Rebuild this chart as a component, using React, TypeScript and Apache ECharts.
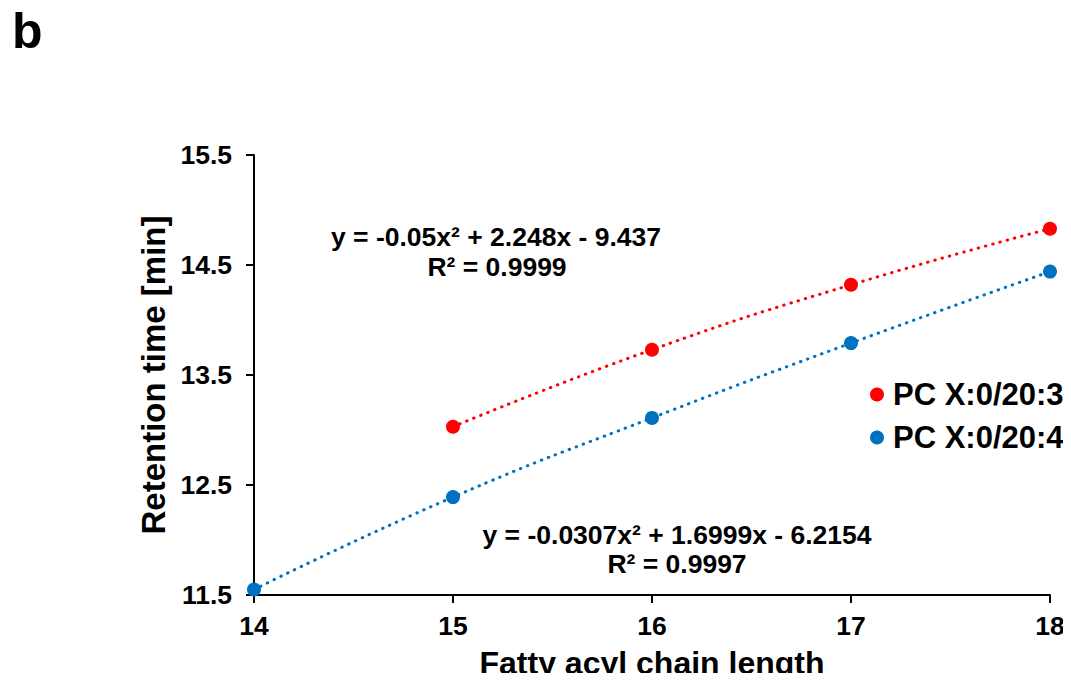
import React, { useEffect, useRef } from "react";
import * as echarts from "echarts";

const xTicks = [14, 15, 16, 17, 18];
const yTicks = [11.5, 12.5, 13.5, 14.5, 15.5];
const redName = "PC X:0/20:3";
const blueName = "PC X:0/20:4";
const redX = [15, 16, 17, 18];
const redY = [13.03, 13.73, 14.32, 14.83];
const blueX = [14, 15, 16, 17, 18];
const blueY = [11.55, 12.39, 13.11, 13.79, 14.44];
const redEq = ["y = -0.05x² + 2.248x - 9.437", "R² = 0.9999"];
const blueEq = ["y = -0.0307x² + 1.6999x - 6.2154", "R² = 0.9997"];

const FONT = "'Liberation Sans', Arial, sans-serif";

export default function App() {
  const ref = useRef<HTMLDivElement>(null);
  useEffect(() => {
    if (!ref.current) return;
    const chart = echarts.init(ref.current, null, { renderer: "svg" });
    const dotted = (color: string) => ({
      color,
      width: 3,
      type: [0.5, 7] as number[],
      cap: "round" as const,
    });
    const eqText = (x: number, y: number, text: string) => ({
      type: "text",
      x,
      y,
      style: {
        text,
        fontFamily: FONT,
        fontWeight: "bold",
        fontSize: 26.5,
        fill: "#000",
        textAlign: "center",
        textVerticalAlign: "middle",
      },
    });
    chart.setOption({
      animation: false,
      backgroundColor: "#fff",
      textStyle: { fontFamily: FONT },
      grid: {
        left: 254,
        right: 21,
        top: 155,
        bottom: 86,
        containLabel: false,
        outerBoundsMode: "none",
      },
      legend: {
        orient: "vertical",
        left: 865,
        top: 374,
        icon: "circle",
        itemWidth: 14,
        itemHeight: 14,
        itemGap: 12,
        textStyle: {
          fontFamily: FONT,
          fontWeight: "bold",
          fontSize: 31,
          color: "#000",
          padding: [0, 0, 0, 4],
        },
        data: [redName, blueName],
      },
      xAxis: {
        type: "value",
        min: 14,
        max: 18,
        interval: 1,
        name: "Fatty acyl chain length",
        nameLocation: "middle",
        nameGap: 52,
        nameTextStyle: { fontFamily: FONT, fontWeight: "bold", fontSize: 32, color: "#000" },
        axisLine: { lineStyle: { color: "#000", width: 2 } },
        axisTick: { show: true, length: 8, lineStyle: { color: "#000", width: 2 }, customValues: xTicks },
        axisLabel: {
          customValues: xTicks,
          margin: 17,
          fontFamily: FONT,
          fontWeight: "bold",
          fontSize: 26.5,
          color: "#000",
        },
        splitLine: { show: false },
      },
      yAxis: {
        type: "value",
        min: 11.5,
        max: 15.5,
        name: "Retention time [min]",
        nameLocation: "middle",
        nameGap: 73,
        nameRotate: 90,
        nameTextStyle: { fontFamily: FONT, fontWeight: "bold", fontSize: 33, color: "#000" },
        axisLine: { show: true, lineStyle: { color: "#000", width: 2 } },
        axisTick: { show: true, length: 8, lineStyle: { color: "#000", width: 2 }, customValues: yTicks },
        axisLabel: {
          customValues: yTicks,
          margin: 22,
          fontFamily: FONT,
          fontWeight: "bold",
          fontSize: 26.5,
          color: "#000",
          formatter: (v: number) => v.toFixed(1),
        },
        splitLine: { show: false },
      },
      series: [
        {
          name: redName,
          type: "line",
          smooth: true,
          data: redX.map((x, i) => [x, redY[i]]),
          symbol: "circle",
          symbolSize: 14,
          itemStyle: { color: "#FF0000" },
          lineStyle: dotted("#FF0000"),
          z: 3,
        },
        {
          name: blueName,
          type: "line",
          smooth: true,
          data: blueX.map((x, i) => [x, blueY[i]]),
          symbol: "circle",
          symbolSize: 14,
          itemStyle: { color: "#0070C0" },
          lineStyle: dotted("#0070C0"),
          z: 3,
        },
      ],
      graphic: [
        {
          type: "text",
          left: 12,
          top: 6,
          style: { text: "b", fontFamily: FONT, fontWeight: "bold", fontSize: 50, fill: "#000" },
        },
        eqText(496, 237, redEq[0]),
        eqText(497, 267, redEq[1]),
        eqText(677, 535, blueEq[0]),
        eqText(677, 564, blueEq[1]),
      ],
    });
    return () => chart.dispose();
  }, []);
  return <div ref={ref} style={{ width: 1071, height: 681, margin: -8 }} />;
}
